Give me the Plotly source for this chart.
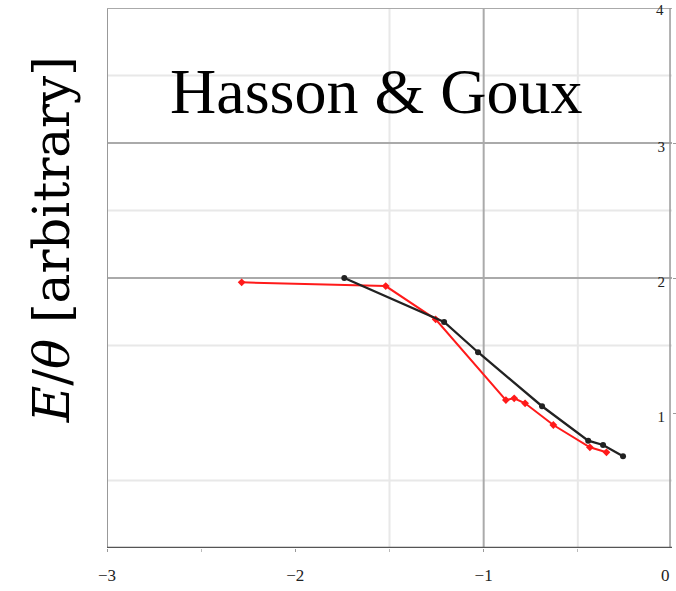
import plotly.graph_objects as go

# Data
black_x = [-1.74, -1.21, -1.03, -0.69, -0.445, -0.366, -0.26]
black_y = [2.00, 1.675, 1.45, 1.05, 0.795, 0.763, 0.68]
red_x = [-2.285, -1.52, -1.255, -0.882, -0.838, -0.78, -0.63, -0.436, -0.348]
red_y = [1.968, 1.94, 1.694, 1.096, 1.109, 1.072, 0.911, 0.746, 0.709]

x_ticks = [-3, -2, -1, 0]
x_tick_text = ["\u22123", "\u22122", "\u22121", "0"]
y_ticks = [1, 2, 3, 4]
y_tick_text = ["1", "2", "3", "4"]

tick_font = dict(family="Liberation Serif", size=17, color="#222222")

fig = go.Figure()
fig.add_trace(go.Scatter(x=red_x, y=red_y, mode="lines+markers",
                         line=dict(color="#ff1a1a", width=2),
                         marker=dict(color="#ff1a1a", size=6, symbol="diamond"),
                         showlegend=False))
fig.add_trace(go.Scatter(x=black_x, y=black_y, mode="lines+markers",
                         line=dict(color="#222222", width=2.3),
                         marker=dict(color="#222222", size=6),
                         showlegend=False))

shapes = []
for yv in [0.5, 1.5, 2.5, 3.5]:
    shapes.append(dict(type="line", xref="x", yref="y", x0=-3, x1=0, y0=yv, y1=yv,
                       line=dict(color="#e8e8e8", width=2), layer="below"))
for xv in [-1.5, -0.5]:
    shapes.append(dict(type="line", xref="x", yref="y", x0=xv, x1=xv, y0=0, y1=4,
                       line=dict(color="#e8e8e8", width=2), layer="below"))
for yv in [2, 3]:
    shapes.append(dict(type="line", xref="x", yref="y", x0=-3, x1=0, y0=yv, y1=yv,
                       line=dict(color="#aaaaaa", width=2), layer="below"))
shapes.append(dict(type="line", xref="x", yref="y", x0=-1, x1=-1, y0=0, y1=4,
                   line=dict(color="#aaaaaa", width=2), layer="below"))
shapes.append(dict(type="line", xref="x", yref="y", x0=-3, x1=-3, y0=0, y1=4,
                   line=dict(color="#999999", width=2)))
shapes.append(dict(type="line", xref="x", yref="y", x0=-3, x1=0, y0=4, y1=4,
                   line=dict(color="#aaaaaa", width=2)))
shapes.append(dict(type="line", xref="paper", yref="y", x0=0.9965, x1=0.9965, y0=0, y1=4,
                   line=dict(color="#999999", width=1.5)))
shapes.append(dict(type="line", xref="x", yref="y", x0=-3, x1=0, y0=0, y1=0,
                   line=dict(color="#555555", width=2.5)))

annotations = [
    dict(text="Hasson &amp; Goux", x=-1.57, y=3.38, xref="x", yref="y",
         showarrow=False, font=dict(family="Liberation Serif", size=64, color="black")),
    dict(text="<i>E</i>/<i>θ</i> [arbitrary]", x=(52 - 107) / 568, y=(548 - 240) / 540,
         xref="paper", yref="paper", xanchor="center", yanchor="middle",
         showarrow=False, textangle=-90,
         font=dict(family="DejaVu Serif", size=50, color="black")),
    # edge tick labels that plotly would hide
    dict(text=x_tick_text[3], x=x_ticks[3], y=0, xref="x", yref="y", yshift=-27,
         xshift=0, showarrow=False, xanchor="right", yanchor="middle", font=tick_font),
    dict(text=y_tick_text[3], x=0, y=y_ticks[3], xref="x", yref="y", xshift=-12,
         yshift=-2, showarrow=False, xanchor="center", yanchor="middle",
         font=dict(family="Liberation Serif", size=15, color="#222222")),
]

fig.update_layout(
    width=676, height=591,
    margin=dict(l=107, r=1, t=8, b=43),
    paper_bgcolor="white", plot_bgcolor="white",
    shapes=shapes,
    annotations=annotations,
    xaxis=dict(range=[-3, 0], tickvals=x_ticks[:3], ticktext=x_tick_text[:3],
               showgrid=False, zeroline=False, showline=False,
               ticks="outside", ticklen=3, tickcolor="#999999", ticklabelstandoff=9,
               minor=dict(tickvals=[-2.5, -1.5, -0.5], ticks="outside", ticklen=3,
                          tickcolor="#bbbbbb", showgrid=False),
               tickfont=tick_font),
    yaxis=dict(range=[0, 4], tickvals=y_ticks[:3], ticktext=y_tick_text[:3], side="right",
               ticklabelposition="inside", showgrid=False, zeroline=False, showline=False,
               ticks="outside", ticklen=3, tickcolor="#999999", ticklabelshift=4,
               ticklabelstandoff=4,
               tickfont=dict(family="Liberation Serif", size=15, color="#222222")),
)

fig.write_html("out.html")
